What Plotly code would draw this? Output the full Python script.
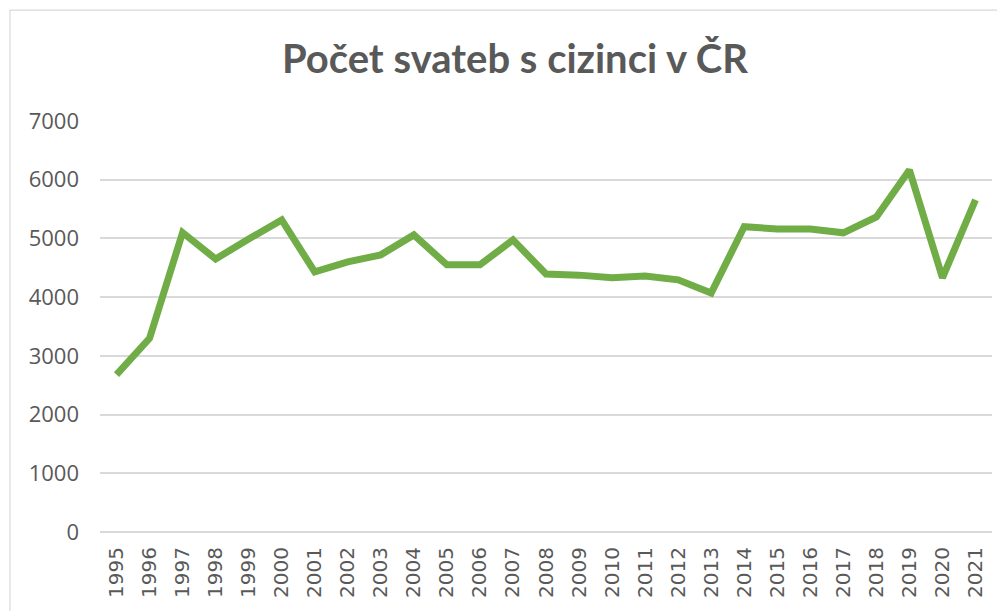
import plotly.graph_objects as go

years = [str(y) for y in range(1995, 2022)]
weddings = [2680, 3300, 5100, 4650, 4990, 5315, 4430, 4600, 4720, 5060,
            4550, 4550, 4975, 4395, 4375, 4330, 4360, 4295, 4070, 5200,
            5160, 5160, 5095, 5365, 6165, 4330, 5655]
y_ticks = [0, 1000, 2000, 3000, 4000, 5000, 6000, 7000]
title_text = "Počet svateb s cizinci v ČR"

fig = go.Figure()
fig.add_trace(go.Scatter(
    x=years, y=weddings, mode="lines",
    line=dict(color="#70AD47", width=7),
    hoverinfo="x+y",
))

# page body has an 8px default margin, so the figure is sized/offset to compensate
fig.update_layout(
    width=997, height=603,
    margin=dict(l=92, r=13, t=113, b=79),
    paper_bgcolor="white", plot_bgcolor="white",
    showlegend=False,
    title=dict(text=title_text, x=0.5085, xanchor="center", y=0.9146, yanchor="middle",
               yref="container",
               font=dict(family="Lato", size=40, color="#595959", weight="bold")),
    xaxis=dict(type="category", range=[-0.5, 26.5], tickangle=-90,
               showgrid=False, showline=False, zeroline=False, ticks="",
               ticklabelstandoff=10,
               tickfont=dict(family="DejaVu Sans", size=20, color="#595959")),
    yaxis=dict(range=[0, 7000], tickvals=y_ticks, ticktext=[str(v) for v in y_ticks],
               showgrid=True, gridcolor="#D9D9D9", gridwidth=1.5,
               zeroline=True, zerolinecolor="#D9D9D9", zerolinewidth=2,
               showline=False, ticks="", ticklabelstandoff=20,
               tickfont=dict(family="Open Sans", size=22, color="#595959")),
    shapes=[dict(type="rect", xref="paper", yref="paper",
                 x0=-0.1009, x1=1.03, y0=-0.25, y1=1.270,
                 line=dict(color="#D9D9D9", width=1.2), fillcolor="rgba(0,0,0,0)",
                 layer="below")],
)

fig.write_html("out.html")
